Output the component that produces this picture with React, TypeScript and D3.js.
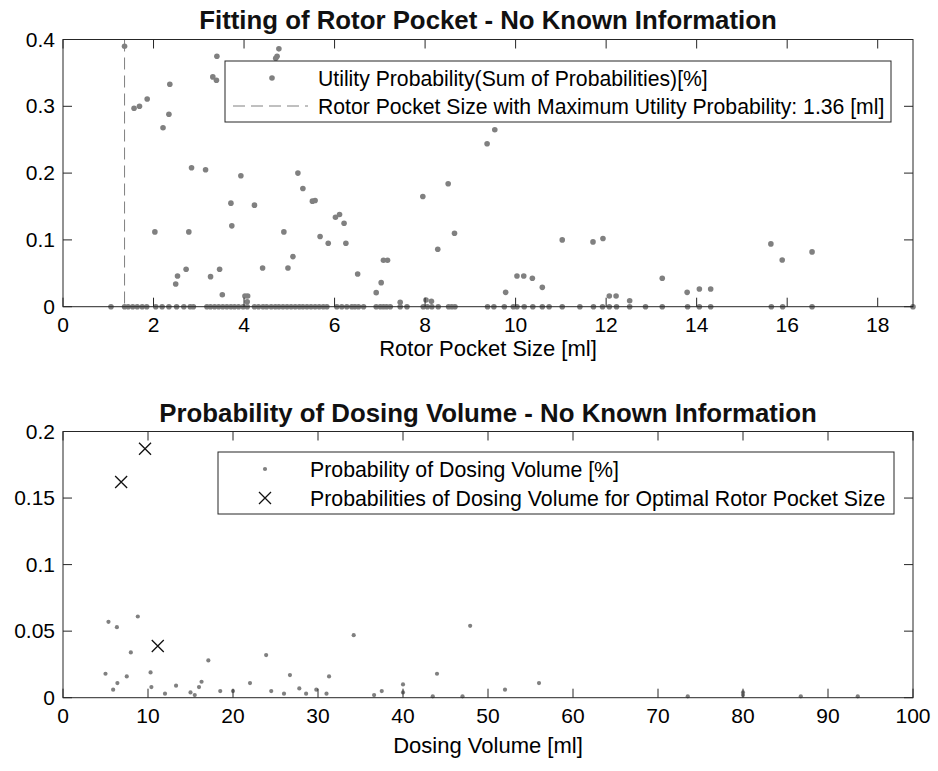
import React from 'react';
import * as d3 from 'd3';

// top panel: utility probability per rotor pocket size
const rotorX = [1.36, 1.57, 1.69, 1.86, 2.03, 2.21, 2.34, 2.36, 2.49, 2.53, 2.72, 2.78, 2.84, 3.15, 3.26, 3.31, 3.39, 3.40, 3.46, 3.52, 3.71, 3.73, 3.93, 4.02, 4.08, 4.07, 4.23, 4.41, 4.70, 4.73, 4.77, 4.88, 4.97, 5.08, 5.19, 5.30, 5.51, 5.57, 5.68, 5.86, 6.02, 6.11, 6.21, 6.25, 6.51, 6.92, 7.03, 7.08, 7.17, 7.45, 7.95, 8.02, 8.14, 8.28, 8.51, 8.65, 9.37, 9.54, 9.78, 10.03, 10.18, 10.37, 10.59, 11.03, 11.71, 11.93, 12.07, 12.22, 12.52, 13.24, 13.79, 14.06, 14.31, 15.64, 15.89, 16.55];
const rotorP = [0.390, 0.297, 0.300, 0.311, 0.112, 0.268, 0.288, 0.333, 0.034, 0.046, 0.056, 0.112, 0.208, 0.205, 0.045, 0.344, 0.339, 0.375, 0.056, 0.018, 0.155, 0.121, 0.196, 0.016, 0.016, 0.0075, 0.152, 0.058, 0.372, 0.375, 0.386, 0.112, 0.058, 0.075, 0.200, 0.177, 0.158, 0.159, 0.105, 0.095, 0.134, 0.138, 0.125, 0.095, 0.049, 0.021, 0.036, 0.0695, 0.0695, 0.0065, 0.165, 0.010, 0.008, 0.086, 0.184, 0.110, 0.244, 0.265, 0.0215, 0.046, 0.046, 0.0425, 0.029, 0.100, 0.097, 0.102, 0.016, 0.016, 0.009, 0.0425, 0.0215, 0.0265, 0.0265, 0.094, 0.070, 0.082];
const rotorZeroX = [1.06, 1.36, 1.44, 1.54, 1.64, 1.75, 1.85, 2.05, 2.19, 2.34, 2.51, 2.67, 2.81, 2.88, 3.18, 3.26, 3.35, 3.44, 3.53, 3.62, 3.71, 3.79, 3.88, 3.98, 4.07, 4.23, 4.32, 4.42, 4.50, 4.60, 4.69, 4.77, 4.86, 4.95, 5.04, 5.13, 5.22, 5.30, 5.39, 5.48, 5.57, 5.66, 5.75, 5.83, 6.05, 6.16, 6.27, 6.38, 6.45, 6.53, 6.64, 6.92, 7.01, 7.08, 7.15, 7.23, 7.45, 7.60, 7.96, 8.05, 8.15, 8.29, 8.52, 8.59, 8.66, 9.38, 9.52, 9.75, 9.95, 10.03, 10.19, 10.38, 10.59, 10.74, 11.03, 11.42, 11.72, 11.92, 12.07, 12.23, 12.52, 12.87, 13.24, 13.80, 14.06, 14.31, 15.65, 15.90, 16.55, 18.78];
const bestRotor = 1.36;
const rotorTicksX = [0, 2, 4, 6, 8, 10, 12, 14, 16, 18];
const rotorTicksY = [0, 0.1, 0.2, 0.3, 0.4];

// bottom panel: dosing volume probability
const doseX = [5.35, 6.34, 8.8, 7.98, 17.1, 23.9, 34.2, 47.9, 5.0, 5.9, 6.4, 7.5, 10.3, 10.4, 12.0, 13.3, 15.0, 15.5, 16.3, 16.0, 18.5, 20.0, 22.0, 24.5, 26.0, 26.7, 27.8, 28.6, 29.8, 31.0, 31.3, 36.6, 37.5, 40.0, 40.0, 43.5, 44.0, 47.0, 52.0, 56.0, 73.5, 80.0, 80.0, 86.8, 93.5];
const doseP = [0.057, 0.053, 0.061, 0.034, 0.028, 0.032, 0.047, 0.054, 0.018, 0.006, 0.011, 0.016, 0.019, 0.008, 0.003, 0.009, 0.004, 0.002, 0.012, 0.008, 0.005, 0.005, 0.011, 0.005, 0.003, 0.017, 0.007, 0.003, 0.006, 0.003, 0.016, 0.002, 0.005, 0.010, 0.004, 0.001, 0.018, 0.001, 0.006, 0.011, 0.001, 0.004, 0.002, 0.001, 0.001];
const optDoseX = [6.84, 9.65, 11.15];
const optDoseP = [0.162, 0.187, 0.0388];
const doseTicksX = [0, 10, 20, 30, 40, 50, 60, 70, 80, 90, 100];
const doseTicksY = [0, 0.05, 0.1, 0.15, 0.2];

const FONT = '"Liberation Sans", Arial, Helvetica, sans-serif';
const AX = '#262626';
const GRAY = '#808080';
const L = 63, R = 913;

function Frame({ x, y, xt, yt, top, bottom }: any) {
  const tk = 9;
  return (
    <g>
      <rect x={L} y={top} width={R - L} height={bottom - top} fill="none" stroke={AX} strokeWidth={1} />
      {xt.map((t: number) => (
        <g key={'x' + t}>
          <line x1={x(t)} x2={x(t)} y1={bottom} y2={bottom - tk} stroke={AX} />
          <line x1={x(t)} x2={x(t)} y1={top} y2={top + tk} stroke={AX} />
          <text x={x(t)} y={bottom + 25} textAnchor="middle" fontSize={21} fill="#000">{t}</text>
        </g>
      ))}
      {yt.map((t: number) => (
        <g key={'y' + t}>
          <line x1={L} x2={L + tk} y1={y(t)} y2={y(t)} stroke={AX} />
          <line x1={R} x2={R - tk} y1={y(t)} y2={y(t)} stroke={AX} />
          <text x={55} y={y(t) + 7} textAnchor="end" fontSize={21} fill="#000">{t}</text>
        </g>
      ))}
    </g>
  );
}

export default function App() {
  const x1 = d3.scaleLinear().domain([0, 18.78]).range([L, R]);
  const y1 = d3.scaleLinear().domain([0, 0.4]).range([306.7, 39.5]);
  const x2 = d3.scaleLinear().domain([0, 100]).range([L, R]);
  const y2 = d3.scaleLinear().domain([0, 0.2]).range([697.7, 431.5]);
  const cross = (cx: number, cy: number, s = 6) => `M${cx - s},${cy - s}L${cx + s},${cy + s}M${cx - s},${cy + s}L${cx + s},${cy - s}`;

  return (
    <div style={{ position: 'absolute', left: 0, top: 0 }}>
      <svg width={938} height={771} style={{ display: 'block', background: '#fff' }} fontFamily={FONT}>
        <rect width={938} height={771} fill="#fff" />
        {/* top panel */}
        <text x={(L + R) / 2} y={29} textAnchor="middle" fontSize={25.8} fontWeight="bold" fill="#111">Fitting of Rotor Pocket - No Known Information</text>
        <line x1={x1(bestRotor)} x2={x1(bestRotor)} y1={y1(0.4)} y2={y1(0)} stroke={GRAY} strokeWidth={1} strokeDasharray="12,6" />
        {rotorZeroX.map((v, i) => (
          <circle key={'z' + i} cx={x1(v)} cy={y1(0)} r={2.8} fill={GRAY} />
        ))}
        {rotorX.map((v, i) => (
          <circle key={'r' + i} cx={x1(v)} cy={y1(rotorP[i])} r={2.8} fill={GRAY} />
        ))}
        <Frame x={x1} y={y1} xt={rotorTicksX} yt={rotorTicksY} top={39.5} bottom={306.7} />
        <text x={(L + R) / 2} y={356} textAnchor="middle" fontSize={22} fill="#000">Rotor Pocket Size [ml]</text>
        <g>
          <rect x={225} y={61} width={666} height={61} fill="#fff" stroke={AX} strokeWidth={1} />
          <circle cx={272} cy={78} r={2.8} fill={GRAY} />
          <line x1={233} x2={308} y1={106} y2={106} stroke={GRAY} strokeDasharray="12,6" />
          <text x={318} y={85.5} fontSize={21.2} fill="#000">Utility Probability(Sum of Probabilities)[%]</text>
          <text x={318} y={114} fontSize={21.2} fill="#000">Rotor Pocket Size with Maximum Utility Probability: 1.36 [ml]</text>
        </g>

        {/* bottom panel */}
        <text x={(L + R) / 2} y={422} textAnchor="middle" fontSize={25.8} fontWeight="bold" fill="#111">Probability of Dosing Volume - No Known Information</text>
        {doseX.map((v, i) => (
          <circle key={'d' + i} cx={x2(v)} cy={y2(doseP[i])} r={2.1} fill={GRAY} />
        ))}
        {optDoseX.map((v, i) => (
          <path key={'o' + i} d={cross(x2(v), y2(optDoseP[i]))} stroke="#111" strokeWidth={1.3} fill="none" />
        ))}
        <Frame x={x2} y={y2} xt={doseTicksX} yt={doseTicksY} top={431.5} bottom={697.7} />
        <text x={(L + R) / 2} y={753} textAnchor="middle" fontSize={22} fill="#000">Dosing Volume [ml]</text>
        <g>
          <rect x={218} y={452} width={676} height={62} fill="#fff" stroke={AX} strokeWidth={1} />
          <circle cx={265} cy={469} r={2.1} fill={GRAY} />
          <path d={cross(265, 498)} stroke="#111" strokeWidth={1.3} fill="none" />
          <text x={310} y={476.5} fontSize={21.3} fill="#000">Probability of Dosing Volume [%]</text>
          <text x={310} y={505.5} fontSize={21.3} fill="#000">Probabilities of Dosing Volume for Optimal Rotor Pocket Size</text>
        </g>
      </svg>
    </div>
  );
}
